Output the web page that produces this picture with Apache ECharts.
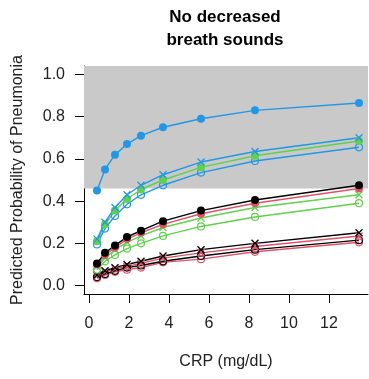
<!DOCTYPE html>
<html>
<head>
<meta charset="utf-8">
<script src="https://cdn.jsdelivr.net/npm/echarts@6/dist/echarts.min.js"></script>
<style>
  html, body { margin: 0; padding: 0; background: #fff; }
  #chart { width: 369px; height: 379px; }
</style>
</head>
<body>
<div id="chart"></div>
<script>
// CRP values (mg/dL) where predictions were evaluated
const crp = [0.4, 0.8, 1.3, 1.9, 2.6, 3.7, 5.6, 8.3, 13.5];

// predicted probabilities, one array per line
const blueFilled  = [0.45, 0.55, 0.62, 0.67, 0.71, 0.75, 0.79, 0.83, 0.865];
const blueCross   = [0.22, 0.30, 0.37, 0.43, 0.475, 0.525, 0.585, 0.635, 0.70];
const greenFilled = [0.21, 0.29, 0.355, 0.41, 0.455, 0.50, 0.56, 0.615, 0.685];
const blueOpen    = [0.195, 0.27, 0.33, 0.385, 0.43, 0.475, 0.535, 0.59, 0.655];
const blackFilled = [0.105, 0.155, 0.19, 0.23, 0.26, 0.305, 0.355, 0.405, 0.475];
const redFilled   = [0.10, 0.145, 0.18, 0.22, 0.25, 0.29, 0.34, 0.39, 0.46];
const greenCross  = [0.09, 0.13, 0.17, 0.205, 0.235, 0.275, 0.32, 0.37, 0.43];
const greenOpen   = [0.075, 0.115, 0.145, 0.175, 0.20, 0.235, 0.28, 0.325, 0.39];
const blackCross  = [0.05, 0.07, 0.085, 0.10, 0.115, 0.14, 0.17, 0.20, 0.25];
const redCross    = [0.045, 0.065, 0.08, 0.09, 0.105, 0.13, 0.155, 0.185, 0.235];
const blackOpen   = [0.04, 0.055, 0.07, 0.085, 0.095, 0.115, 0.14, 0.17, 0.215];
const redOpen     = [0.035, 0.05, 0.065, 0.075, 0.085, 0.11, 0.125, 0.16, 0.205];

const xTicks = [0, 2, 4, 6, 8, 10, 12];
const yTicks = [0, 0.2, 0.4, 0.6, 0.8, 1.0];
const highRiskCutoff = 0.46;

const FONT = 'Liberation Sans, Arial, Helvetica, sans-serif';
const BLACK = '#000000', RED = '#DF536B', GREEN = '#61D04F', BLUE = '#2297E6';
const CROSS = 'path://M0,0L10,10M10,0L0,10';

// [data, colour, marker]
const lines = [
  [redOpen, RED, 'open'],
  [blackOpen, BLACK, 'open'],
  [redCross, RED, 'cross'],
  [blackCross, BLACK, 'cross'],
  [greenOpen, GREEN, 'open'],
  [greenCross, GREEN, 'cross'],
  [redFilled, RED, 'filled'],
  [blackFilled, BLACK, 'filled'],
  [blueOpen, BLUE, 'open'],
  [greenFilled, GREEN, 'filled'],
  [blueCross, BLUE, 'cross'],
  [blueFilled, BLUE, 'filled']
];

const chart = echarts.init(document.getElementById('chart'), null, { renderer: 'canvas' });

const series = lines.map(([vals, color, marker]) => {
  const s = {
    type: 'line',
    data: crp.map((x, j) => [x, vals[j]]),
    lineStyle: { color: color, width: 1.4 },
    symbolSize: 7,
    z: 3,
    animation: false
  };
  if (marker === 'filled') {
    s.symbol = 'circle';
    s.symbolSize = 8;
    s.itemStyle = { color: color, borderWidth: 0 };
  } else if (marker === 'open') {
    s.symbol = 'circle';
    s.itemStyle = { color: 'rgba(0,0,0,0)', borderColor: color, borderWidth: 1.2 };
  } else {
    s.symbol = CROSS;
    s.itemStyle = { color: 'rgba(0,0,0,0)', borderColor: color, borderWidth: 1.3 };
  }
  return s;
});

// shaded band above the cutoff
series.unshift({
  type: 'line',
  data: [],
  z: 1,
  silent: true,
  markArea: {
    silent: true,
    itemStyle: { color: '#c9c9c9' },
    data: [[{ yAxis: highRiskCutoff }, { yAxis: 1.04 }]]
  }
});

const option = {
  animation: false,
  title: {
    text: 'No decreased\nbreath sounds',
    left: 225,
    top: 6,
    padding: 0,
    textAlign: 'center',
    textStyle: {
      fontFamily: FONT,
      fontSize: 17,
      fontWeight: 'bold',
      color: '#000',
      lineHeight: 23
    }
  },
  grid: { left: 84, right: 1, top: 66, bottom: 85 },
  xAxis: {
    type: 'value',
    min: -0.25,
    max: 13.95,
    name: 'CRP (mg/dL)',
    nameLocation: 'middle',
    nameGap: 60,
    nameTextStyle: { fontFamily: FONT, fontSize: 16, color: '#222' },
    axisLine: { show: true, onZero: false, lineStyle: { color: '#000', width: 1 } },
    axisTick: { show: true, length: 9, customValues: xTicks, lineStyle: { color: '#000' } },
    axisLabel: {
      customValues: xTicks,
      fontFamily: FONT, fontSize: 16, color: '#222', margin: 22
    },
    splitLine: { show: false }
  },
  yAxis: {
    type: 'value',
    min: -0.04,
    max: 1.04,
    name: 'Predicted Probability of Pneumonia',
    nameLocation: 'middle',
    nameGap: 58,
    nameTextStyle: { fontFamily: FONT, fontSize: 16, color: '#222' },
    axisLine: { show: true, onZero: false, lineStyle: { color: '#000', width: 1 } },
    axisTick: { show: true, length: 9, customValues: yTicks, lineStyle: { color: '#000' } },
    axisLabel: {
      customValues: yTicks,
      formatter: v => v.toFixed(1),
      fontFamily: FONT, fontSize: 16, color: '#222', margin: 19
    },
    splitLine: { show: false }
  },
  series: series
};

chart.setOption(option);
</script>
</body>
</html>
